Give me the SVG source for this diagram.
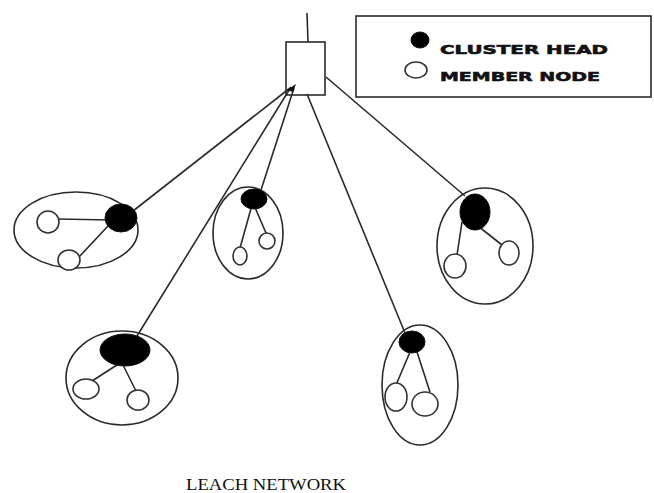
<svg xmlns="http://www.w3.org/2000/svg" width="654" height="493" viewBox="0 0 654 493">
<style>
.l{stroke:#2a2a2a;stroke-width:1.6;fill:none}
.o{stroke:#333;stroke-width:1.6;fill:#fff}
.h{fill:#000;stroke:#111;stroke-width:1}
.lg{font-family:"DejaVu Sans",sans-serif;font-weight:bold;font-size:13px;fill:#111;stroke:#111;stroke-width:0.6}
.t{font-family:"Liberation Serif",serif;font-size:16px;fill:#111}
</style>
<rect width="654" height="493" fill="#fff"/>
<g id="connectors">
<line class="l" x1="290" y1="88" x2="133" y2="211"/>
<line class="l" x1="291" y1="87" x2="137" y2="336"/>
<line class="l" x1="294" y1="88" x2="261" y2="190"/>
<line class="l" x1="307" y1="94" x2="405" y2="333"/>
<line class="l" x1="326" y1="77" x2="465" y2="196"/>
</g>
<g id="base-station">
<line class="l" x1="307" y1="13" x2="308" y2="42"/>
<rect class="l" x="286" y="42" width="39" height="53"/>
<path d="M287 90 L296 84 L293 92 Z" fill="#111"/>
</g>
<g id="legend">
<rect class="l" x="356" y="16" width="295" height="81"/>
<ellipse class="h" cx="420" cy="40" rx="9" ry="8"/>
<ellipse class="o" cx="416" cy="70" rx="11" ry="8"/>
<text class="lg" x="440" y="54" textLength="168" lengthAdjust="spacingAndGlyphs">CLUSTER HEAD</text>
<text class="lg" x="440" y="81" textLength="160" lengthAdjust="spacingAndGlyphs">MEMBER NODE</text>
</g>
<g id="cluster-left">
<ellipse class="l" cx="76" cy="230" rx="62" ry="38"/>
<line class="l" x1="58" y1="219" x2="110" y2="220"/>
<line class="l" x1="108" y1="226" x2="79" y2="257"/>
<ellipse class="o" cx="48" cy="222" rx="11" ry="11"/>
<ellipse class="o" cx="69" cy="260" rx="11" ry="10"/>
<ellipse class="h" cx="121" cy="218" rx="16" ry="14"/>
</g>
<g id="cluster-center">
<ellipse class="l" cx="248" cy="233" rx="35" ry="46"/>
<line class="l" x1="252" y1="205" x2="240" y2="248"/>
<line class="l" x1="254" y1="205" x2="266" y2="233"/>
<ellipse class="o" cx="240" cy="256" rx="7" ry="9"/>
<ellipse class="o" cx="267" cy="241" rx="8" ry="8"/>
<ellipse class="h" cx="254" cy="199" rx="13" ry="10"/>
</g>
<g id="cluster-right">
<ellipse class="l" cx="485" cy="246" rx="48" ry="58"/>
<line class="l" x1="462" y1="222" x2="457" y2="255"/>
<line class="l" x1="478" y1="226" x2="502" y2="245"/>
<ellipse class="o" cx="455" cy="266" rx="11" ry="12"/>
<ellipse class="o" cx="509" cy="253" rx="10" ry="12"/>
<ellipse class="h" cx="475" cy="212" rx="15" ry="18"/>
</g>
<g id="cluster-bottom-left">
<ellipse class="l" cx="122" cy="378" rx="56" ry="47"/>
<line class="l" x1="120" y1="363" x2="92" y2="381"/>
<line class="l" x1="122" y1="363" x2="136" y2="391"/>
<ellipse class="o" cx="86" cy="389" rx="13" ry="10"/>
<ellipse class="o" cx="138" cy="400" rx="11" ry="10"/>
<ellipse class="h" cx="125" cy="350" rx="25" ry="16"/>
</g>
<g id="cluster-bottom-right">
<ellipse class="l" cx="420" cy="385" rx="38" ry="60"/>
<line class="l" x1="410" y1="352" x2="396" y2="385"/>
<line class="l" x1="417" y1="352" x2="430" y2="392"/>
<ellipse class="o" cx="396" cy="397" rx="11" ry="14"/>
<ellipse class="o" cx="425" cy="404" rx="13" ry="12"/>
<ellipse class="h" cx="412" cy="342" rx="13" ry="11"/>
</g>
<text class="t" x="186" y="490" textLength="160" lengthAdjust="spacingAndGlyphs">LEACH NETWORK</text>
</svg>
